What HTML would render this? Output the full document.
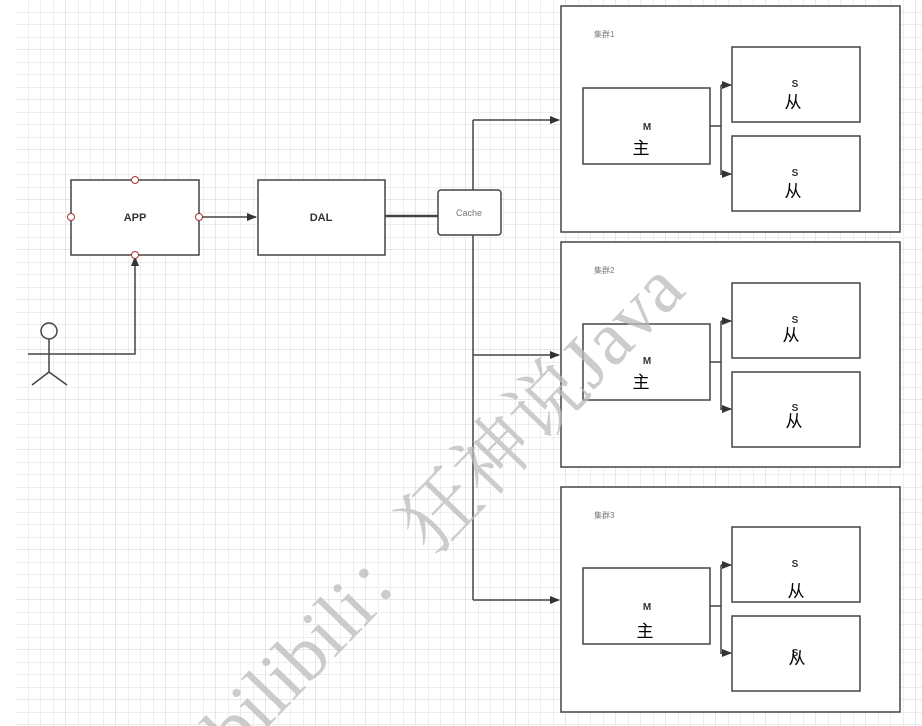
<!DOCTYPE html>
<html><head><meta charset="utf-8"><style>
html,body{margin:0;padding:0;background:#fff;width:922px;height:726px;overflow:hidden;}
body{position:relative;font-family:"Liberation Sans","Noto Sans CJK SC",sans-serif;}
svg{overflow:hidden;display:block;}
</style></head><body>
<svg width="922" height="726" viewBox="0 0 922 726" xmlns="http://www.w3.org/2000/svg" style="position:absolute;left:0;top:0">
<defs>
<pattern id="g" x="16" y="0" width="12.5" height="12.5" patternUnits="userSpaceOnUse">
<path d="M12.5 0V12.5M0 12.5H12.5" stroke="#dedede" stroke-width="1" fill="none"/>
</pattern>
<pattern id="G" x="16" y="0" width="50" height="50" patternUnits="userSpaceOnUse">
<path d="M50 0V50M0 50H50" stroke="#d0d0d0" stroke-width="1" fill="none"/>
</pattern>
<marker id="a" markerWidth="10" markerHeight="8" refX="9" refY="4" orient="auto" markerUnits="userSpaceOnUse">
<path d="M0 0L10 4L0 8z" fill="#333"/>
</marker>
<clipPath id="c"><rect x="0" y="0" width="922" height="726"/></clipPath>
</defs>
<rect x="16" y="0" width="906" height="726" fill="url(#g)"/>
<rect x="16" y="0" width="906" height="726" fill="url(#G)"/>

<g stroke="#444" stroke-width="1.5" fill="#fff">
<rect x="71" y="180" width="128" height="75"/>
<rect x="258" y="180" width="127" height="75"/>
<rect x="438" y="190" width="63" height="45" rx="3"/>
<rect x="561" y="6" width="339" height="226"/>
<rect x="561" y="242" width="339" height="225"/>
<rect x="561" y="487" width="339" height="225"/>
<rect x="583" y="88" width="127" height="76"/>
<rect x="732" y="47" width="128" height="75"/>
<rect x="732" y="136" width="128" height="75"/>
<rect x="583" y="324" width="127" height="76"/>
<rect x="732" y="283" width="128" height="75"/>
<rect x="732" y="372" width="128" height="75"/>
<rect x="583" y="568" width="127" height="76"/>
<rect x="732" y="527" width="128" height="75"/>
<rect x="732" y="616" width="128" height="75"/>
</g>
<g stroke="#444" stroke-width="1.5" fill="none">
<path d="M199 217H256" marker-end="url(#a)"/>
<path d="M385 216H438" stroke-width="2.5"/>
<path d="M473 235V600M473 190V120"/>
<path d="M473 120H559" marker-end="url(#a)"/>
<path d="M473 355H559" marker-end="url(#a)"/>
<path d="M473 600H559" marker-end="url(#a)"/>
<path d="M70 354H135V257" marker-end="url(#a)"/>
<path d="M710 126H721M721 85V175"/>
<path d="M721 85H731" marker-end="url(#a)"/><path d="M721 174H731" marker-end="url(#a)"/>
<path d="M710 362H721M721 321V410"/>
<path d="M721 321H731" marker-end="url(#a)"/><path d="M721 409H731" marker-end="url(#a)"/>
<path d="M710 606H721M721 565V654"/>
<path d="M721 565H731" marker-end="url(#a)"/><path d="M721 653H731" marker-end="url(#a)"/>
<circle cx="49" cy="331" r="8"/>
<path d="M49 339V372M28 354H70M49 372L32 385M49 372L67 385"/>
</g>
<g fill="#fff" stroke="#a33" stroke-width="1">
<circle cx="135" cy="180" r="3.5"/><circle cx="135" cy="255" r="3.5"/>
<circle cx="71" cy="217" r="3.5"/><circle cx="199" cy="217" r="3.5"/>
</g>
<g font-family="Liberation Sans, Noto Sans CJK SC, sans-serif" text-anchor="middle" fill="#333">
<text x="135" y="221" font-size="11" font-weight="bold">APP</text>
<text x="321" y="221" font-size="11" font-weight="bold">DAL</text>
<text x="469" y="216" font-size="9" fill="#777">Cache</text>
<g font-size="8" fill="#777" text-anchor="start">
<text x="594" y="37">集群1</text><text x="594" y="273">集群2</text><text x="594" y="518">集群3</text>
</g>
<g font-size="10" font-weight="bold">
<text x="647" y="130">M</text><text x="647" y="364">M</text><text x="647" y="610">M</text>
<text x="795" y="87">S</text><text x="795" y="176">S</text>
<text x="795" y="323">S</text><text x="795" y="411">S</text>
<text x="795" y="567">S</text><text x="795" y="656">S</text>
</g>
<g font-size="17" fill="#000">
<text x="641" y="154">主</text><text x="641" y="388">主</text><text x="645" y="637">主</text>
<text x="793" y="108">从</text><text x="793" y="197">从</text>
<text x="791" y="341">从</text><text x="794" y="427">从</text>
<text x="796" y="597">从</text><text x="797" y="664">从</text>
</g>
</g>
<g clip-path="url(#c)">
<text transform="translate(236,760) rotate(-46)" font-family="Liberation Serif, Noto Serif CJK SC, serif" font-size="76" fill="#bbb" fill-opacity="0.75" textLength="650" lengthAdjust="spacingAndGlyphs">bilibili：狂神说Java</text>
</g>
</svg>
</body></html>
